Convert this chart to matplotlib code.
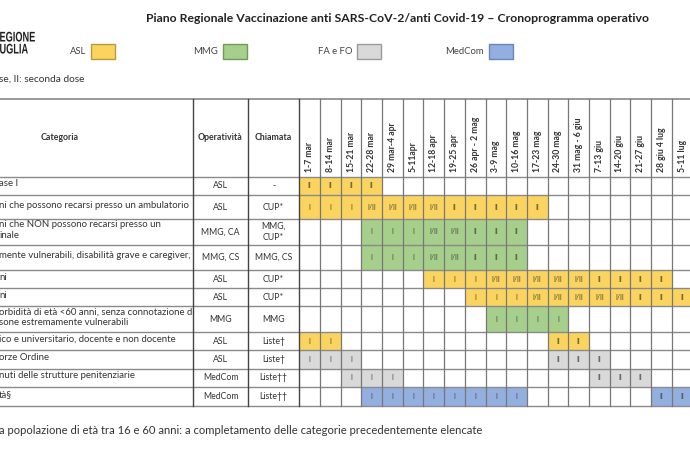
import matplotlib
matplotlib.use("Agg")
import matplotlib.pyplot as plt
from matplotlib.patches import Rectangle, PathPatch
from matplotlib.textpath import TextPath
from matplotlib.font_manager import FontProperties
from matplotlib.transforms import Affine2D

plt.rcParams['font.family'] = ['Lato', 'DejaVu Sans']

# --- data -------------------------------------------------------------
settimane = ["1-7 mar", "8-14 mar", "15-21 mar", "22-28 mar", "29 mar-4 apr",
             "5-11apr", "12-18 apr", "19-25 apr", "26 apr - 2 mag", "3-9 mag",
             "10-16 mag", "17-23 mag", "24-30 mag", "31 mag - 6 giu",
             "7-13 giu", "14-20 giu", "21-27 giu", "28 giu 4 lug", "5-11 lug"]

categorie = ["ase I",
             "ni che possono recarsi presso un ambulatorio",
             "ni che NON possono recarsi presso un\ninale",
             "mente vulnerabili, disabilità grave e caregiver,",
             "ni",
             "ni",
             "orbidità di età <60 anni, senza connotazione di\nsone estremamente vulnerabili",
             "ico e universitario, docente e non docente",
             "orze Ordine",
             "nuti delle strutture penitenziarie",
             "tà§"]

operativita = ["ASL", "ASL", "MMG, CA", "MMG, CS", "ASL", "ASL", "MMG",
               "ASL", "ASL", "MedCom", "MedCom"]

chiamata = ["-", "CUP*", "MMG,\nCUP*", "MMG, CS", "CUP*", "CUP*", "MMG",
            "Liste†", "Liste†", "Liste††", "Liste††"]

# ente che somministra (colore della riga)
enti = ["ASL", "ASL", "MMG", "MMG", "ASL", "ASL", "MMG",
        "ASL", "FA e FO", "FA e FO", "MedCom"]

# dose per settimana, "-" = nessuna
dosi = [
    "II II II II - - - - - - - - - - - - - - -",
    "I I I I/II I/II I/II I/II II II II II II - - - - - - -",
    "- - - I I I I/II I/II II II II - - - - - - - -",
    "- - - I I I I/II I/II II II II - - - - - - - -",
    "- - - - - - I I I I/II I/II I/II I/II I/II II II II II -",
    "- - - - - - - - I I I I/II I/II I/II I/II I/II II II II",
    "- - - - - - - - - I I I I - - - - - -",
    "I I - - - - - - - - - - II II - - - - -",
    "I I I - - - - - - - - - II II II - - - -",
    "- - I I I - - - - - - - - - II II II - -",
    "- - - I I I I I I I I - - - - - - II II",
]

legenda = ["ASL", "MMG", "FA e FO", "MedCom"]
colori = {"ASL": "#fbd45f", "MMG": "#a6cf8c", "FA e FO": "#d9d9d9",
          "MedCom": "#93afe0"}
bordi = {"ASL": "#b89a3a", "MMG": "#6f9a5a", "FA e FO": "#9a9a9a",
         "MedCom": "#6a86b8"}

# --- layout -----------------------------------------------------------
fig = plt.figure(figsize=(6.9, 4.5), dpi=100)
ax = fig.add_axes([0, 0, 1, 1])
ax.set_xlim(0, 690)
ax.set_ylim(450, 0)
ax.axis('off')

x0 = 299.3
cw = 20.69
col_x = [x0 + cw * k for k in range(len(settimane) + 1)]
row_y = [177, 195, 219, 245, 270, 288, 306, 332, 350, 369, 387, 406]
head_top = 99
x_oper, x_chiam = 193, 248
txt = '#333333'

# titolo, logo, legenda
ax.text(398, 19, "Piano Regionale Vaccinazione anti SARS-CoV-2/anti Covid-19 \u2013 Cronoprogramma operativo",
        ha='center', va='center', fontsize=8.85, fontweight='bold', color='#222222')

# logo con testo stretto (condensed)
logo_prop = FontProperties(family='Liberation Sans', weight='bold')
for parola, base in [("EGIONE", 41.5), ("UGLIA", 53.5)]:
    tp = TextPath((0, 0), parola, size=1, prop=logo_prop)
    tr = Affine2D().scale(9.2, -14).translate(-0.5, base)
    ax.add_patch(PathPatch(tr.transform_path(tp), facecolor='#222222',
                           edgecolor='none'))

leg_x = [91, 223, 357, 489]
for nome, lx in zip(legenda, leg_x):
    ax.add_patch(Rectangle((lx, 44), 24, 15, facecolor=colori[nome],
                           edgecolor=bordi[nome], lw=1))
    ax.text(lx - 5, 51.5, nome, ha='right', va='center', fontsize=6.8, color='#444444')

ax.text(-1, 79, "se, II: seconda dose", ha='left', va='center', fontsize=7.3, color=txt)

# celle colorate
for r, riga in enumerate(dosi):
    valori = riga.split()
    for c, v in enumerate(valori):
        if v == '-':
            continue
        ax.add_patch(Rectangle((col_x[c], row_y[r]), cw, row_y[r + 1] - row_y[r],
                               facecolor=colori[enti[r]], edgecolor='none'))
        ax.text(col_x[c] + cw / 2, (row_y[r] + row_y[r + 1]) / 2, v,
                ha='center', va='center', fontsize=5, color='#4a4a3a')

# griglia
gl = '#8a8a8a'
ax.plot([0, 690], [head_top, head_top], color='#999999', lw=1.4)
for y in row_y:
    ax.plot([0, 690], [y, y], color=gl, lw=1.0)
for x in [x_oper, x_chiam, x0]:
    ax.plot([x, x], [head_top, row_y[-1]], color='#444444', lw=1.0)
for x in col_x[1:]:
    ax.plot([x, x], [head_top, row_y[-1]], color='#777777', lw=0.9)

# intestazione
ax.text(60, 138, "Categoria", ha='center', va='center', fontsize=6.3,
        fontweight='bold', color=txt)
ax.text((x_oper + x_chiam) / 2, 138, "Operatività", ha='center', va='center',
        fontsize=6.3, fontweight='bold', color=txt)
ax.text((x_chiam + x0) / 2, 138, "Chiamata", ha='center', va='center',
        fontsize=6.3, fontweight='bold', color=txt)
for c, s in enumerate(settimane):
    ax.text(col_x[c] + cw / 2, 172, s, ha='center', va='bottom', rotation=90,
            fontsize=6.2, fontweight='bold', color=txt)

# righe
for r in range(len(categorie)):
    yc = (row_y[r] + row_y[r + 1]) / 2
    ax.text(-1, yc - 2, categorie[r], ha='left', va='center', fontsize=6.9,
            color=txt, linespacing=1.2)
    ax.text((x_oper + x_chiam) / 2, yc, operativita[r], ha='center', va='center',
            fontsize=6.3, color=txt)
    ax.text((x_chiam + x0) / 2, yc, chiamata[r], ha='center', va='center',
            fontsize=6.3, color=txt, linespacing=1.25)

ax.text(-1, 430, "a popolazione di età tra 16 e 60 anni: a completamento delle categorie precedentemente elencate",
        ha='left', va='center', fontsize=8.1, color=txt)

fig.savefig("out.png", dpi=100, facecolor='white')
